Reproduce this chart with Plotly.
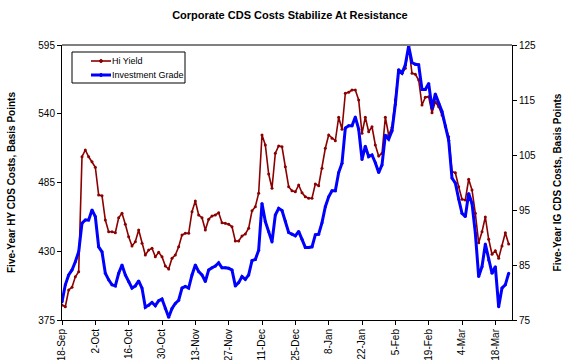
import numpy as np
import pandas as pd
import plotly.graph_objects as go

# Daily (business-day) CDS cost readings, 18-Sep through late March
start_date = "2007-09-18"

hi_yield = [
    387, 385.6, 399, 401.2, 409.6, 413.6, 505.6, 511, 505.6, 501.6,
    497.2, 475, 474.4, 455, 445.6, 445.6, 444.8, 456.8, 460.4, 451.6,
    441.6, 434.2, 437.6, 447, 436.4, 427, 431, 432.4, 425.6, 429.2,
    425.6, 418.2, 415.8, 424.4, 427, 433.6, 443, 444.4, 444.4, 461.6,
    470.2, 459, 456.8, 447, 455.6, 458.2, 459, 460.8, 452.8, 452.4,
    451.6, 449.6, 438.2, 438.2, 442.2, 443.8, 448.4, 462.4, 465.6, 476.4,
    523, 515, 491.8, 480.4, 508.4, 514.2, 513.6, 497.6, 481.6, 478.4,
    477.6, 483, 476.8, 473.6, 472.4, 472.4, 483.8, 482.4, 496.4, 512.4,
    523, 520.4, 518.4, 537.2, 527.6, 556.4, 557.2, 559, 559, 551,
    524.4, 537.2, 525.6, 529.6, 515, 506.2, 508.4, 537.2, 523, 529.2,
    551, 575, 572.4, 576.4, 593.6, 572.4, 571.6, 567, 547, 553.2,
    553.6, 540.8, 549.6, 545.6, 539, 529.6, 521.6, 493.6, 492.8, 481.6,
    471.6, 471, 487.6, 479, 460.4, 436.8, 445.6, 457.4, 439.6, 427.6,
    430.4, 424.4, 434.2, 444.8, 435.8,
]

investment_grade = [
    78.3, 81.4, 83.2, 84.1, 85.6, 87.4, 92.6, 93.2, 93.2, 95.0,
    93.8, 88.3, 87.4, 83.5, 82.3, 81.4, 81.2, 83.5, 85.0, 83.2,
    82.0, 80.8, 81.2, 82.1, 80.8, 77.3, 77.7, 78.2, 77.6, 78.5,
    78.8, 77.1, 75.5, 77.1, 78.0, 78.6, 80.8, 81.1, 80.8, 83.2,
    85.0, 83.8, 83.2, 82.0, 84.1, 84.5, 84.8, 85.4, 84.5, 84.5,
    84.4, 84.1, 81.2, 81.8, 82.9, 82.4, 83.2, 85.8, 86.0, 87.7,
    96.2, 92.9, 91.1, 89.2, 94.1, 95.3, 94.9, 93.0, 90.9, 90.6,
    90.3, 91.1, 89.7, 88.2, 88.2, 88.3, 90.5, 90.6, 92.7, 95.6,
    97.4, 98.5, 98.5, 101.8, 103.5, 109.9, 110.3, 110.3, 111.9, 109.7,
    104.2, 106.6, 104.7, 105.0, 103.6, 101.8, 103.2, 108.6, 107.9, 109.4,
    114.2, 120.5, 119.9, 121.4, 124.8, 121.8, 121.5, 121.4, 116.9, 116.9,
    118.0, 113.5, 116.1, 114.4, 112.9, 110.3, 107.7, 100.8, 99.9, 97.0,
    94.4, 93.8, 98.0, 96.2, 90.8, 82.9, 84.7, 88.8, 85.9, 83.5,
    84.7, 77.4, 80.8, 81.4, 83.5,
]

dates = pd.bdate_range(start=start_date, periods=len(hi_yield))
# trading-day position of each reading (weekends take no space on the axis)
pos = np.busday_count(dates[0].date(), [d.date() for d in dates])

# Axis settings: a tick every two weeks
tick_dates = pd.date_range(start_date, periods=14, freq="14D")
tick_pos = np.busday_count(dates[0].date(), [d.date() for d in tick_dates])
tick_text = [f"{d.day}-{d.strftime('%b')}" for d in tick_dates]
x_range = [0, 135]
hy_range = [375, 595]
hy_ticks = [375, 430, 485, 540, 595]
ig_range = [75, 125]
ig_ticks = [75, 85, 95, 105, 115, 125]

FONT = "Liberation Sans, Arial, sans-serif"
HY_COLOR = "#8B0000"
IG_COLOR = "#0000FF"

fig = go.Figure()

fig.add_trace(go.Scatter(
    x=pos, y=hi_yield, name="Hi Yield", yaxis="y",
    mode="lines+markers",
    line=dict(color=HY_COLOR, width=1.6),
    marker=dict(size=3, color=HY_COLOR),
    customdata=dates.strftime("%d-%b-%Y"),
    hovertemplate="%{customdata}: %{y}<extra>Hi Yield</extra>",
))

fig.add_trace(go.Scatter(
    x=pos, y=investment_grade, name="Investment Grade", yaxis="y2",
    mode="lines+markers",
    line=dict(color=IG_COLOR, width=3),
    marker=dict(size=3, color=IG_COLOR),
    customdata=dates.strftime("%d-%b-%Y"),
    hovertemplate="%{customdata}: %{y}<extra>Investment Grade</extra>",
))

# Legend box drawn in paper coordinates
def px_x(px):
    return (px - 62) / 450


def px_y(py):
    return (320 - py) / 275


shapes = [
    # gray top edge of the plot frame
    dict(type="line", xref="paper", yref="paper", x0=0, x1=1, y0=1, y1=1,
         line=dict(color="#808080", width=2)),
    dict(type="rect", xref="paper", yref="paper",
         x0=px_x(72), x1=px_x(185), y0=px_y(83), y1=px_y(52),
         line=dict(color="#000000", width=1), fillcolor="white"),
]
annotations = []
legend_rows = [("Hi Yield", HY_COLOR, 1.6, 61), ("Investment Grade", IG_COLOR, 3, 75)]
for label, color, width, py in legend_rows:
    shapes.append(dict(type="line", xref="paper", yref="paper",
                       x0=px_x(91), x1=px_x(111), y0=px_y(py), y1=px_y(py),
                       line=dict(color=color, width=width)))
    shapes.append(dict(type="circle", xref="paper", yref="paper",
                       x0=px_x(99.5), x1=px_x(102.5),
                       y0=px_y(py + 1.5), y1=px_y(py - 1.5),
                       line=dict(color=color, width=1), fillcolor=color))
    annotations.append(dict(text=label, xref="paper", yref="paper",
                            x=px_x(110), y=px_y(py), xanchor="left", yanchor="middle",
                            showarrow=False,
                            font=dict(family=FONT, size=9, color="#000000")))

fig.update_layout(
    width=563, height=360,
    margin=dict(l=62, r=51, t=45, b=40),
    paper_bgcolor="white", plot_bgcolor="white",
    font=dict(family=FONT, size=10, color="#000000"),
    title=dict(
        text="<b>Corporate CDS Costs Stabilize At Resistance</b>",
        x=0.515, xanchor="center", y=0.957, yanchor="middle",
        font=dict(family=FONT, size=11, color="#000000"),
    ),
    showlegend=False,
    xaxis=dict(
        range=x_range, automargin=False,
        tickmode="array", tickvals=list(tick_pos), ticktext=tick_text,
        tickangle=-90, ticks="outside", ticklen=4, tickcolor="#000000",
        showline=True, linecolor="#000000", linewidth=1,
        showgrid=False, zeroline=False,
        tickfont=dict(family=FONT, size=10, color="#000000"),
    ),
    yaxis=dict(
        range=hy_range, tickmode="array", tickvals=hy_ticks, automargin=False,
        ticks="outside", ticklen=4, tickcolor="#000000",
        showline=True, linecolor="#000000", linewidth=1,
        showgrid=False, zeroline=False,
        tickfont=dict(family=FONT, size=10, color="#000000"),
        title=dict(text="<b>Five-Year HY CDS Costs, Basis Points</b>",
                   font=dict(family=FONT, size=10, color="#000000"),
                   standoff=20),
    ),
    yaxis2=dict(
        range=ig_range, tickmode="array", tickvals=ig_ticks, automargin=False,
        overlaying="y", side="right",
        ticks="outside", ticklen=4, tickcolor="#000000",
        showline=True, linecolor="#000000", linewidth=1,
        showgrid=False, zeroline=False,
        tickfont=dict(family=FONT, size=10, color="#000000"),
        title=dict(text="<b>Five-Year IG CDS Costs, Basis Points</b>",
                   font=dict(family=FONT, size=10, color="#000000"),
                   standoff=31),
    ),
    shapes=shapes,
    annotations=annotations,
)

fig.write_html("out.html")
